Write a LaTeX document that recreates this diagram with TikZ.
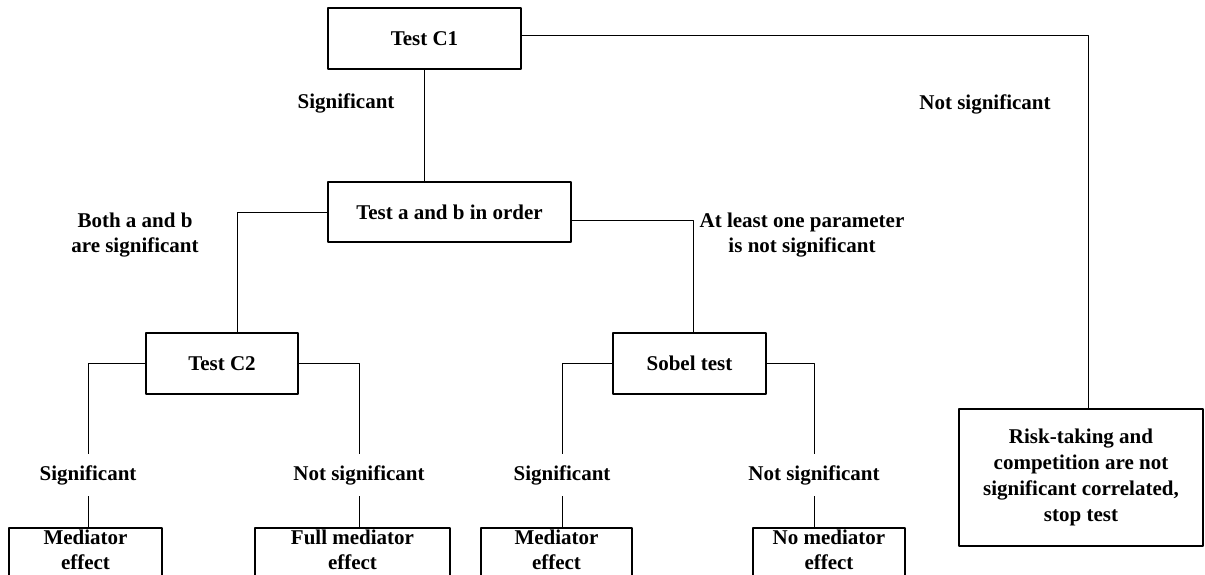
\documentclass[tikz,border=0pt]{standalone}
\usepackage{fontspec}
\setmainfont{Liberation Serif}
\begin{document}
\begin{tikzpicture}[x=1pt, y=-1pt, line join=round, font=\fontsize{21}{25}\selectfont\bfseries,
	box/.style={draw, line width=1.5pt, inner sep=0pt, align=center},
	lab/.style={inner sep=0pt, align=center, minimum height=42pt},
	con/.style={line width=1pt}]
	\clip (0,0) rectangle (1205,574);
	
	\node[box, minimum width=193pt, minimum height=61pt] (C1) at (424.5,38.5) {Test C1};
	\node[box, minimum width=243pt, minimum height=60pt] (AB) at (449.5,212) {Test a and b in order};
	\node[box, minimum width=152pt, minimum height=61pt] (C2) at (222,363.5) {Test C2};
	\node[box, minimum width=153pt, minimum height=61pt] (S) at (689.5,363.5) {Sobel test};
	\node[box, minimum width=244pt, minimum height=137pt, font=\fontsize{21}{26}\selectfont\bfseries] (R) at (1081,477.5)
	{Risk-taking and\\competition are not\\significant correlated,\\stop test};
	
	\node[lab] (L1) at (346,103) {Significant};
	\node[lab] (L2) at (985,104) {Not significant};
	\node[lab] (L3) at (135,235) {Both a and b\\are significant};
	\node[lab] (L4) at (802,235) {At least one parameter\\is not significant};
	
	\foreach \n/\x/\bx/\w/\t/\e in {1/88/85.5/153/Significant/{Mediator\\effect},
		2/359/352.5/195/Not significant/{Full mediator\\effect},
		3/562/556.5/151/Significant/{Mediator\\effect},
		4/814/829/152/Not significant/{No mediator\\effect}}
	{
		\node[lab] (Y\n) at (\x,475) {\t};
		\node[box, minimum width=\w pt, minimum height=50pt, text depth=7pt, anchor=north] (Z\n) at (\bx,527) {\e};
		\draw[con] (Y\n.south) -- (Y\n.south |- Z\n.north);
	}
	
	\draw[con] ([yshift=3.5pt]C1.east) -| ([xshift=7pt]R.north);
	\draw[con] (C1.south) -- (C1.south |- AB.north);
	\draw[con] (AB.west) -| ([xshift=15pt]C2.north);
	\draw[con] ([yshift=-8pt]AB.east) -| ([xshift=3.5pt]S.north);
	\draw[con] (C2.west) -| (Y1.north);
	\draw[con] (C2.east) -| (Y2.north);
	\draw[con] (S.west) -| (Y3.north);
	\draw[con] (S.east) -| (Y4.north);
\end{tikzpicture}
\end{document}
